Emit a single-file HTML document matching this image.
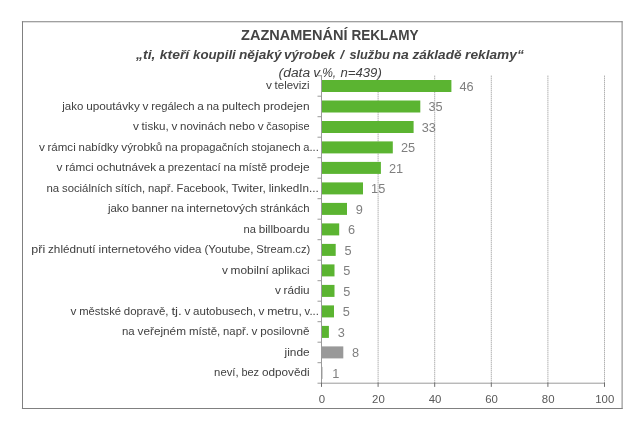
<!DOCTYPE html>
<html lang="cs"><head><meta charset="utf-8"><title>Zaznamenání reklamy</title>
<style>html,body{margin:0;padding:0;background:#fff}body{width:644px;height:428px;overflow:hidden}svg{display:block}text{font-family:"Liberation Sans",sans-serif}</style></head><body>
<svg width="644" height="428" viewBox="0 0 644 428">
<rect x="0" y="0" width="644" height="428" fill="#fff"/>
<path d="M22.5 21.3V409M21.9 408.5H622.6M622.1 409V21.3M622.6 21.75H21.9" fill="none" stroke="#808080" stroke-width="1"/>
<text y="40.0" font-size="15.2" fill="#444444" font-weight="bold"><tspan x="241.0" textLength="106.6" lengthAdjust="spacingAndGlyphs">ZAZNAMENÁNÍ</tspan> <tspan x="351.4" textLength="67.2" lengthAdjust="spacingAndGlyphs">REKLAMY</tspan></text>
<text y="59.0" font-size="13.2" fill="#444444" font-weight="bold" font-style="italic"><tspan x="136.0" textLength="19.4" lengthAdjust="spacingAndGlyphs">„ti,</tspan> <tspan x="159.8" textLength="29.4" lengthAdjust="spacingAndGlyphs">kteří</tspan> <tspan x="193.0" textLength="42.8" lengthAdjust="spacingAndGlyphs">koupili</tspan> <tspan x="239.0" textLength="42.5" lengthAdjust="spacingAndGlyphs">nějaký</tspan> <tspan x="284.0" textLength="51.3" lengthAdjust="spacingAndGlyphs">výrobek</tspan> <tspan x="340.3">/</tspan> <tspan x="349.4" textLength="40.4" lengthAdjust="spacingAndGlyphs">službu</tspan> <tspan x="392.5" textLength="16.3" lengthAdjust="spacingAndGlyphs">na</tspan> <tspan x="412.4" textLength="49.1" lengthAdjust="spacingAndGlyphs">základě</tspan> <tspan x="465.1" textLength="58.7" lengthAdjust="spacingAndGlyphs">reklamy“</tspan></text>
<text y="77.2" font-size="13.7" fill="#404040" font-style="italic"><tspan x="278.6" textLength="31.5" lengthAdjust="spacingAndGlyphs">(data</tspan> <tspan x="313.2">v</tspan> <tspan x="322.2" textLength="14.0" lengthAdjust="spacingAndGlyphs">%,</tspan> <tspan x="340.5" textLength="41.3" lengthAdjust="spacingAndGlyphs">n=439)</tspan></text>
<line x1="378.1" y1="75.7" x2="378.1" y2="383.2" stroke="#8f8f8f" stroke-width="1" stroke-dasharray="1 1"/>
<line x1="434.7" y1="75.7" x2="434.7" y2="383.2" stroke="#8f8f8f" stroke-width="1" stroke-dasharray="1 1"/>
<line x1="491.3" y1="75.7" x2="491.3" y2="383.2" stroke="#8f8f8f" stroke-width="1" stroke-dasharray="1 1"/>
<line x1="547.9" y1="75.7" x2="547.9" y2="383.2" stroke="#8f8f8f" stroke-width="1" stroke-dasharray="1 1"/>
<line x1="604.5" y1="75.7" x2="604.5" y2="383.2" stroke="#8f8f8f" stroke-width="1" stroke-dasharray="1 1"/>
<rect x="321.5" y="80.0" width="129.9" height="12.0" fill="#5bb431"/>
<text x="459.5" y="90.9" font-size="12" fill="#7f7f7f" textLength="14.2" lengthAdjust="spacingAndGlyphs">46</text>
<rect x="321.5" y="100.5" width="98.8" height="12.0" fill="#5bb431"/>
<text x="428.4" y="111.4" font-size="12" fill="#7f7f7f" textLength="14.2" lengthAdjust="spacingAndGlyphs">35</text>
<rect x="321.5" y="121.0" width="92.1" height="12.0" fill="#5bb431"/>
<text x="421.7" y="131.8" font-size="12" fill="#7f7f7f" textLength="14.2" lengthAdjust="spacingAndGlyphs">33</text>
<rect x="321.5" y="141.4" width="71.3" height="12.0" fill="#5bb431"/>
<text x="400.9" y="152.3" font-size="12" fill="#7f7f7f" textLength="14.2" lengthAdjust="spacingAndGlyphs">25</text>
<rect x="321.5" y="161.9" width="59.4" height="12.0" fill="#5bb431"/>
<text x="389.0" y="172.8" font-size="12" fill="#7f7f7f" textLength="14.2" lengthAdjust="spacingAndGlyphs">21</text>
<rect x="321.5" y="182.4" width="41.5" height="12.0" fill="#5bb431"/>
<text x="371.1" y="193.3" font-size="12" fill="#7f7f7f" textLength="14.2" lengthAdjust="spacingAndGlyphs">15</text>
<rect x="321.5" y="202.9" width="25.5" height="12.0" fill="#5bb431"/>
<text x="355.8" y="213.8" font-size="12" fill="#7f7f7f" textLength="7.1" lengthAdjust="spacingAndGlyphs">9</text>
<rect x="321.5" y="223.4" width="17.7" height="12.0" fill="#5bb431"/>
<text x="348.0" y="234.3" font-size="12" fill="#7f7f7f" textLength="7.1" lengthAdjust="spacingAndGlyphs">6</text>
<rect x="321.5" y="243.9" width="14.2" height="12.0" fill="#5bb431"/>
<text x="344.4" y="254.8" font-size="12" fill="#7f7f7f" textLength="7.1" lengthAdjust="spacingAndGlyphs">5</text>
<rect x="321.5" y="264.4" width="13.0" height="12.0" fill="#5bb431"/>
<text x="343.3" y="275.3" font-size="12" fill="#7f7f7f" textLength="7.1" lengthAdjust="spacingAndGlyphs">5</text>
<rect x="321.5" y="284.9" width="13.0" height="12.0" fill="#5bb431"/>
<text x="343.3" y="295.8" font-size="12" fill="#7f7f7f" textLength="7.1" lengthAdjust="spacingAndGlyphs">5</text>
<rect x="321.5" y="305.4" width="12.5" height="12.0" fill="#5bb431"/>
<text x="342.8" y="316.3" font-size="12" fill="#7f7f7f" textLength="7.1" lengthAdjust="spacingAndGlyphs">5</text>
<rect x="321.5" y="325.9" width="7.4" height="12.0" fill="#5bb431"/>
<text x="337.7" y="336.8" font-size="12" fill="#7f7f7f" textLength="7.1" lengthAdjust="spacingAndGlyphs">3</text>
<rect x="321.5" y="346.4" width="21.8" height="12.0" fill="#999999"/>
<text x="352.1" y="357.3" font-size="12" fill="#7f7f7f" textLength="7.1" lengthAdjust="spacingAndGlyphs">8</text>
<rect x="322.0" y="366.9" width="1" height="12.0" fill="#d0d0d0"/>
<text x="332.3" y="377.8" font-size="12" fill="#7f7f7f" textLength="7.1" lengthAdjust="spacingAndGlyphs">1</text>
<line x1="321.5" y1="75.2" x2="321.5" y2="383.7" stroke="#9a9a9a" stroke-width="1"/>
<line x1="321.0" y1="383.2" x2="605.0" y2="383.2" stroke="#9a9a9a" stroke-width="1"/>
<line x1="317.5" y1="75.7" x2="321.5" y2="75.7" stroke="#9a9a9a" stroke-width="1"/>
<line x1="317.5" y1="96.2" x2="321.5" y2="96.2" stroke="#9a9a9a" stroke-width="1"/>
<line x1="317.5" y1="116.7" x2="321.5" y2="116.7" stroke="#9a9a9a" stroke-width="1"/>
<line x1="317.5" y1="137.2" x2="321.5" y2="137.2" stroke="#9a9a9a" stroke-width="1"/>
<line x1="317.5" y1="157.7" x2="321.5" y2="157.7" stroke="#9a9a9a" stroke-width="1"/>
<line x1="317.5" y1="178.2" x2="321.5" y2="178.2" stroke="#9a9a9a" stroke-width="1"/>
<line x1="317.5" y1="198.7" x2="321.5" y2="198.7" stroke="#9a9a9a" stroke-width="1"/>
<line x1="317.5" y1="219.2" x2="321.5" y2="219.2" stroke="#9a9a9a" stroke-width="1"/>
<line x1="317.5" y1="239.7" x2="321.5" y2="239.7" stroke="#9a9a9a" stroke-width="1"/>
<line x1="317.5" y1="260.2" x2="321.5" y2="260.2" stroke="#9a9a9a" stroke-width="1"/>
<line x1="317.5" y1="280.7" x2="321.5" y2="280.7" stroke="#9a9a9a" stroke-width="1"/>
<line x1="317.5" y1="301.2" x2="321.5" y2="301.2" stroke="#9a9a9a" stroke-width="1"/>
<line x1="317.5" y1="321.7" x2="321.5" y2="321.7" stroke="#9a9a9a" stroke-width="1"/>
<line x1="317.5" y1="342.2" x2="321.5" y2="342.2" stroke="#9a9a9a" stroke-width="1"/>
<line x1="317.5" y1="362.7" x2="321.5" y2="362.7" stroke="#9a9a9a" stroke-width="1"/>
<line x1="317.5" y1="383.2" x2="321.5" y2="383.2" stroke="#9a9a9a" stroke-width="1"/>
<line x1="321.5" y1="382.6" x2="321.5" y2="386.9" stroke="#6e6e6e" stroke-width="1"/>
<text x="321.8" y="403.4" font-size="11.4" fill="#595959" text-anchor="middle">0</text>
<line x1="378.1" y1="382.6" x2="378.1" y2="386.9" stroke="#6e6e6e" stroke-width="1"/>
<text x="378.4" y="403.4" font-size="11.4" fill="#595959" text-anchor="middle">20</text>
<line x1="434.7" y1="382.6" x2="434.7" y2="386.9" stroke="#6e6e6e" stroke-width="1"/>
<text x="435.0" y="403.4" font-size="11.4" fill="#595959" text-anchor="middle">40</text>
<line x1="491.3" y1="382.6" x2="491.3" y2="386.9" stroke="#6e6e6e" stroke-width="1"/>
<text x="491.6" y="403.4" font-size="11.4" fill="#595959" text-anchor="middle">60</text>
<line x1="547.9" y1="382.6" x2="547.9" y2="386.9" stroke="#6e6e6e" stroke-width="1"/>
<text x="548.2" y="403.4" font-size="11.4" fill="#595959" text-anchor="middle">80</text>
<line x1="604.5" y1="382.6" x2="604.5" y2="386.9" stroke="#6e6e6e" stroke-width="1"/>
<text x="604.8" y="403.4" font-size="11.4" fill="#595959" text-anchor="middle">100</text>
<text y="89.2" font-size="11.8" fill="#404040" ><tspan x="266.1">v</tspan> <tspan x="274.6" textLength="35.0" lengthAdjust="spacingAndGlyphs">televizi</tspan></text>
<text y="109.7" font-size="11.8" fill="#404040" ><tspan x="62.3" textLength="21.0" lengthAdjust="spacingAndGlyphs">jako</tspan> <tspan x="86.2" textLength="53.6" lengthAdjust="spacingAndGlyphs">upoutávky</tspan> <tspan x="142.6">v</tspan> <tspan x="151.2" textLength="43.4" lengthAdjust="spacingAndGlyphs">regálech</tspan> <tspan x="197.2">a</tspan> <tspan x="206.4" textLength="12.7" lengthAdjust="spacingAndGlyphs">na</tspan> <tspan x="221.9" textLength="38.5" lengthAdjust="spacingAndGlyphs">pultech</tspan> <tspan x="263.3" textLength="46.3" lengthAdjust="spacingAndGlyphs">prodejen</tspan></text>
<text y="130.2" font-size="11.8" fill="#404040" ><tspan x="133.0">v</tspan> <tspan x="141.6" textLength="27.1" lengthAdjust="spacingAndGlyphs">tisku,</tspan> <tspan x="171.4">v</tspan> <tspan x="180.0" textLength="46.1" lengthAdjust="spacingAndGlyphs">novinách</tspan> <tspan x="229.0" textLength="26.0" lengthAdjust="spacingAndGlyphs">nebo</tspan> <tspan x="257.7">v</tspan> <tspan x="266.3" textLength="43.3" lengthAdjust="spacingAndGlyphs">časopise</tspan></text>
<text y="150.6" font-size="11.8" fill="#404040" ><tspan x="38.9">v</tspan> <tspan x="47.5" textLength="28.2" lengthAdjust="spacingAndGlyphs">rámci</tspan> <tspan x="78.6" textLength="39.9" lengthAdjust="spacingAndGlyphs">nabídky</tspan> <tspan x="121.3" textLength="41.0" lengthAdjust="spacingAndGlyphs">výrobků</tspan> <tspan x="165.1" textLength="12.6" lengthAdjust="spacingAndGlyphs">na</tspan> <tspan x="180.5" textLength="68.1" lengthAdjust="spacingAndGlyphs">propagačních</tspan> <tspan x="251.5" textLength="49.1" lengthAdjust="spacingAndGlyphs">stojanech</tspan> <tspan x="303.3" textLength="15.5" lengthAdjust="spacingAndGlyphs">a...</tspan></text>
<text y="171.1" font-size="11.8" fill="#404040" ><tspan x="56.6">v</tspan> <tspan x="65.2" textLength="28.5" lengthAdjust="spacingAndGlyphs">rámci</tspan> <tspan x="96.6" textLength="59.5" lengthAdjust="spacingAndGlyphs">ochutnávek</tspan> <tspan x="158.6">a</tspan> <tspan x="167.8" textLength="52.8" lengthAdjust="spacingAndGlyphs">prezentací</tspan> <tspan x="223.5" textLength="12.7" lengthAdjust="spacingAndGlyphs">na</tspan> <tspan x="239.0" textLength="28.1" lengthAdjust="spacingAndGlyphs">místě</tspan> <tspan x="269.9" textLength="39.7" lengthAdjust="spacingAndGlyphs">prodeje</tspan></text>
<text y="191.6" font-size="11.8" fill="#404040" ><tspan x="46.5" textLength="12.7" lengthAdjust="spacingAndGlyphs">na</tspan> <tspan x="62.0" textLength="50.3" lengthAdjust="spacingAndGlyphs">sociálních</tspan> <tspan x="115.2" textLength="30.0" lengthAdjust="spacingAndGlyphs">sítích,</tspan> <tspan x="148.1" textLength="25.6" lengthAdjust="spacingAndGlyphs">např.</tspan> <tspan x="176.6" textLength="52.0" lengthAdjust="spacingAndGlyphs">Facebook,</tspan> <tspan x="231.4" textLength="34.4" lengthAdjust="spacingAndGlyphs">Twiter,</tspan> <tspan x="268.7" textLength="50.1" lengthAdjust="spacingAndGlyphs">linkedIn...</tspan></text>
<text y="212.1" font-size="11.8" fill="#404040" ><tspan x="107.9" textLength="21.0" lengthAdjust="spacingAndGlyphs">jako</tspan> <tspan x="131.7" textLength="36.5" lengthAdjust="spacingAndGlyphs">banner</tspan> <tspan x="171.1" textLength="12.6" lengthAdjust="spacingAndGlyphs">na</tspan> <tspan x="186.6" textLength="70.9" lengthAdjust="spacingAndGlyphs">internetových</tspan> <tspan x="260.3" textLength="49.3" lengthAdjust="spacingAndGlyphs">stránkách</tspan></text>
<text y="232.6" font-size="11.8" fill="#404040" ><tspan x="243.5" textLength="12.4" lengthAdjust="spacingAndGlyphs">na</tspan> <tspan x="258.7" textLength="50.9" lengthAdjust="spacingAndGlyphs">billboardu</tspan></text>
<text y="253.1" font-size="11.8" fill="#404040" ><tspan x="31.3" textLength="13.9" lengthAdjust="spacingAndGlyphs">při</tspan> <tspan x="48.0" textLength="47.6" lengthAdjust="spacingAndGlyphs">zhlédnutí</tspan> <tspan x="98.5" textLength="72.7" lengthAdjust="spacingAndGlyphs">internetového</tspan> <tspan x="174.0" textLength="27.5" lengthAdjust="spacingAndGlyphs">videa</tspan> <tspan x="204.4" textLength="49.1" lengthAdjust="spacingAndGlyphs">(Youtube,</tspan> <tspan x="256.3" textLength="53.9" lengthAdjust="spacingAndGlyphs">Stream.cz)</tspan></text>
<text y="273.6" font-size="11.8" fill="#404040" ><tspan x="222.0">v</tspan> <tspan x="230.6" textLength="38.3" lengthAdjust="spacingAndGlyphs">mobilní</tspan> <tspan x="271.7" textLength="37.9" lengthAdjust="spacingAndGlyphs">aplikaci</tspan></text>
<text y="294.1" font-size="11.8" fill="#404040" ><tspan x="275.1">v</tspan> <tspan x="283.6" textLength="26.0" lengthAdjust="spacingAndGlyphs">rádiu</tspan></text>
<text y="314.6" font-size="11.8" fill="#404040" ><tspan x="70.6">v</tspan> <tspan x="79.2" textLength="41.8" lengthAdjust="spacingAndGlyphs">městské</tspan> <tspan x="123.8" textLength="44.7" lengthAdjust="spacingAndGlyphs">dopravě,</tspan> <tspan x="171.4" textLength="10.4" lengthAdjust="spacingAndGlyphs">tj.</tspan> <tspan x="184.5">v</tspan> <tspan x="193.1" textLength="62.8" lengthAdjust="spacingAndGlyphs">autobusech,</tspan> <tspan x="258.6">v</tspan> <tspan x="267.2" textLength="34.6" lengthAdjust="spacingAndGlyphs">metru,</tspan> <tspan x="304.6" textLength="14.2" lengthAdjust="spacingAndGlyphs">v...</tspan></text>
<text y="335.1" font-size="11.8" fill="#404040" ><tspan x="121.9" textLength="12.7" lengthAdjust="spacingAndGlyphs">na</tspan> <tspan x="137.5" textLength="48.5" lengthAdjust="spacingAndGlyphs">veřejném</tspan> <tspan x="188.9" textLength="31.4" lengthAdjust="spacingAndGlyphs">místě,</tspan> <tspan x="223.1" textLength="25.7" lengthAdjust="spacingAndGlyphs">např.</tspan> <tspan x="251.6">v</tspan> <tspan x="260.2" textLength="49.4" lengthAdjust="spacingAndGlyphs">posilovně</tspan></text>
<text y="355.6" font-size="11.8" fill="#404040" ><tspan x="284.5" textLength="25.1" lengthAdjust="spacingAndGlyphs">jinde</tspan></text>
<text y="376.1" font-size="11.8" fill="#404040" ><tspan x="214.1" textLength="24.5" lengthAdjust="spacingAndGlyphs">neví,</tspan> <tspan x="241.4" textLength="17.7" lengthAdjust="spacingAndGlyphs">bez</tspan> <tspan x="261.9" textLength="47.7" lengthAdjust="spacingAndGlyphs">odpovědi</tspan></text>
</svg></body></html>
